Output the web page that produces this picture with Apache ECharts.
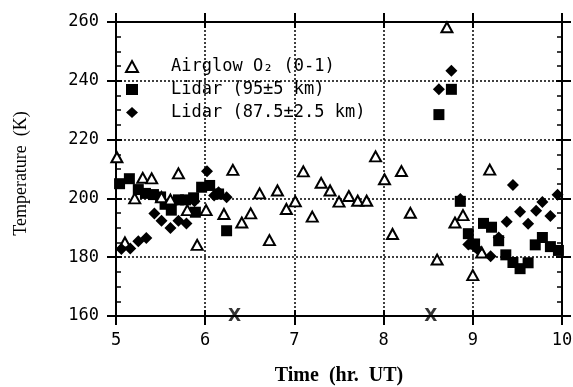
<!DOCTYPE html>
<html>
<head>
<meta charset="utf-8">
<script src="https://cdn.jsdelivr.net/npm/echarts@6/dist/echarts.min.js"></script>
<style>
  html, body { margin: 0; padding: 0; background: #fff; }
  #tempChart { width: 573px; height: 387px; }
</style>
</head>
<body>
<div id="tempChart"></div>
<script>
// 气辉 O2 (0-1) 温度，时间(小时 UT) / 温度(K)
var airglowTime = [5.01, 5.10, 5.21, 5.30, 5.40, 5.51, 5.61, 5.70, 5.80, 5.91, 6.01, 6.21, 6.31, 6.41, 6.51, 6.61, 6.72, 6.81, 6.91, 7.01,
                   7.10, 7.20, 7.30, 7.40, 7.50, 7.61, 7.71, 7.81, 7.91, 8.01, 8.10, 8.20, 8.30, 8.60, 8.71, 8.80, 8.89, 9.00, 9.10, 9.19];
var airglowTemp = [214, 185, 200, 207, 206.8, 200.4, 199.6, 208.5, 196, 184.2, 196, 194.7, 209.7, 191.8, 194.9, 201.7, 185.8, 202.7, 196.4, 199,
                   209.2, 193.8, 205.3, 202.7, 198.9, 200.8, 199.2, 199.2, 214.3, 206.5, 187.9, 209.3, 195.1, 179.2, 258.2, 191.8, 194.3, 173.9, 181.6, 209.8];

// 激光雷达 95±5 km
var lidar95Time = [5.04, 5.15, 5.25, 5.33, 5.42, 5.50, 5.55, 5.62, 5.70, 5.78, 5.87, 5.89, 5.96, 6.05, 6.15, 6.24,
                   8.62, 8.76, 8.86, 8.95, 9.02, 9.12, 9.21, 9.29, 9.37, 9.45, 9.53, 9.62, 9.70, 9.78, 9.87, 9.96];
var lidar95Temp = [205, 206.7, 203, 201.7, 201.3, 200.5, 198, 196, 199.5, 199.5, 200.2, 195.3, 203.8, 204.4, 201.5, 189,
                   228.5, 237.1, 199, 188, 184.5, 191.5, 190.2, 185.6, 180.8, 178.2, 176.1, 178.1, 184.2, 186.7, 183.6, 182.3];

// 激光雷达 87.5±2.5 km
var lidar87Time = [5.06, 5.16, 5.25, 5.34, 5.43, 5.51, 5.61, 5.70, 5.79, 5.88, 6.02, 6.10, 6.15, 6.24,
                   8.62, 8.76, 8.86, 8.95, 9.02, 9.05, 9.20, 9.29, 9.38, 9.45, 9.53, 9.62, 9.71, 9.78, 9.87, 9.95];
var lidar87Temp = [182.8, 183, 185.4, 186.5, 194.9, 192.4, 189.9, 192.4, 191.5, 199, 209.2, 201, 202.1, 200.4,
                   237.1, 243.4, 199.8, 184.3, 183.6, 182.8, 180.3, 186.7, 192.1, 204.6, 195.5, 191.4, 195.8, 198.8, 194, 201.2];

// 底部 X 标记
var markTime = [6.33, 8.53];
var markTemp = [160, 160];

var legendNames = ['Airglow O₂ (0-1)', 'Lidar (95±5 km)', 'Lidar (87.5±2.5 km)'];

var labelFont = 'DejaVu Sans Mono';

function pairs(xs, ys) {
  return xs.map(function (x, i) { return [x, ys[i]]; });
}

// 坐标轴：同一位置叠两条，一条刻度朝外，一条朝内（含次刻度）
function xAxisPart(position, inside, showLabel) {
  return {
    type: 'value', position: position, min: 5, max: 10, interval: 1,
    axisLine: { show: !inside, lineStyle: { color: '#000', width: 2 } },
    axisTick: { show: true, inside: inside, length: inside ? 6 : 9, lineStyle: { color: '#000', width: 2 } },
    axisLabel: { show: showLabel, color: '#000', fontFamily: labelFont, fontSize: 17, margin: 16 },
    splitLine: { show: position === 'bottom' && !inside, lineStyle: { color: '#000', type: [2, 2], width: 1.5 } }
  };
}
function yAxisPart(position, inside, showLabel) {
  return {
    type: 'value', position: position, min: 160, max: 260, interval: 20,
    axisLine: { show: !inside, lineStyle: { color: '#000', width: 2 } },
    axisTick: { show: true, inside: inside, length: inside ? 6 : 9, lineStyle: { color: '#000', width: 2 } },
    minorTick: { show: inside, splitNumber: 4, length: 5, lineStyle: { color: '#000', width: 1.5 } },
    axisLabel: { show: showLabel, color: '#000', fontFamily: labelFont, fontSize: 17, margin: 17 },
    splitLine: { show: position === 'left' && !inside, lineStyle: { color: '#000', type: [2, 2], width: 1.5 } }
  };
}

var xAxes = [xAxisPart('bottom', false, true), xAxisPart('bottom', true, false),
             xAxisPart('top', false, false), xAxisPart('top', true, false)];
xAxes[0].name = 'Time  (hr.  UT)';
xAxes[0].nameLocation = 'middle';
xAxes[0].nameGap = 50;
xAxes[0].nameTextStyle = { color: '#000', fontFamily: 'Liberation Serif', fontSize: 20, fontWeight: 'bold' };

var yAxes = [yAxisPart('left', false, true), yAxisPart('left', true, false),
             yAxisPart('right', false, false), yAxisPart('right', true, false)];
yAxes[0].name = 'Temperature  (K)';
yAxes[0].nameLocation = 'middle';
yAxes[0].nameGap = 86;
yAxes[0].nameTextStyle = { color: '#000', fontFamily: 'Liberation Serif', fontSize: 18, padding: [0, 9, 0, 0] };

var option = {
  animation: false,
  backgroundColor: '#fff',
  // outerBoundsMode none：不让 v6 为了标签自动缩小绘图区
  grid: { left: 116, right: 11, top: 22, bottom: 71, outerBoundsMode: 'none', containLabel: false },
  legend: {
    orient: 'vertical', left: 125, top: 58, padding: 0,
    itemWidth: 12, itemHeight: 11, itemGap: 6,
    data: legendNames,
    textStyle: {
      color: '#000', fontFamily: labelFont, fontSize: 17, lineHeight: 15,
      padding: [0, 0, 0, 28]
    }
  },
  xAxis: xAxes,
  yAxis: yAxes,
  series: [
    {
      name: legendNames[1], type: 'scatter', z: 2,
      symbol: 'rect', symbolSize: 11,
      itemStyle: { color: '#000', opacity: 1 },
      data: pairs(lidar95Time, lidar95Temp)
    },
    {
      name: legendNames[0], type: 'scatter', z: 3,
      symbol: 'triangle', symbolSize: [11, 10],
      itemStyle: { color: '#fff', borderColor: '#000', borderWidth: 2, opacity: 1 },
      data: pairs(airglowTime, airglowTemp)
    },
    {
      name: legendNames[2], type: 'scatter', z: 4,
      symbol: 'diamond', symbolSize: 12,
      itemStyle: { color: '#000', opacity: 1 },
      data: pairs(lidar87Time, lidar87Temp)
    },
    {
      name: 'X', type: 'scatter', z: 5, symbolSize: 0,
      label: { show: true, position: 'inside', offset: [0, 1], formatter: 'X', color: '#000', fontFamily: 'DejaVu Sans', fontSize: 17, fontWeight: 'bold' },
      data: pairs(markTime, markTemp)
    }
  ]
};

var tempChart = echarts.init(document.getElementById('tempChart'));
tempChart.setOption(option);
</script>
</body>
</html>
